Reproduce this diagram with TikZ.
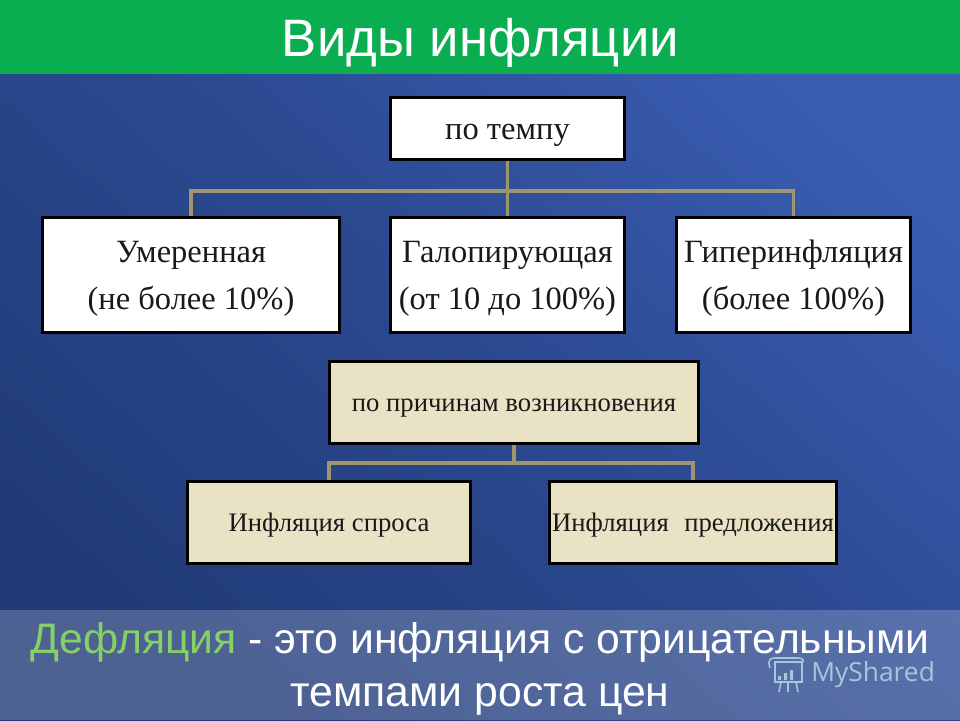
\documentclass[tikz,border=0pt]{standalone}
\usepackage{fontspec}
\setmainfont{Liberation Serif}
\setsansfont{Liberation Sans}
\newfontfamily\markfont{Open Sans}
\usetikzlibrary{positioning}
\usetikzlibrary{calc}
\definecolor{bgdark}{HTML}{213B78}
\definecolor{bglight}{HTML}{3A5DB2}
\definecolor{bargreen}{HTML}{0AAE50}
\definecolor{boxcream}{HTML}{EAE2C4}
\definecolor{linktan}{HTML}{A0966E}
\definecolor{defgreen}{HTML}{86D068}
\definecolor{markblue}{HTML}{A3C8DC}
\newcommand{\boxstrut}{\rule[-0.12em]{0pt}{1em}}
\tikzstyle{whitebox}=[rectangle,draw=black,fill=white,line width=1.7pt,inner sep=0pt,align=center,font=\fontsize{18.5}{26.8}\selectfont,text=black!90]
\tikzstyle{creambox}=[rectangle,draw=black,fill=boxcream,line width=1.7pt,inner sep=0pt,align=center,font=\fontsize{15.2}{18}\selectfont,text=black!90]
\tikzstyle{link}=[draw=linktan,line width=1.8pt]
\tikzstyle{heading}=[inner sep=0pt,align=center,text=white,font=\sffamily\fontsize{30}{34}\selectfont]
\tikzstyle{footer}=[inner sep=0pt,align=center,text=white,font=\sffamily\fontsize{24.3}{30}\selectfont]
\tikzstyle{markline}=[draw=markblue,line width=0.9pt]

\begin{document}
\begin{tikzpicture}[x=0.02cm,y=-0.02cm]

  \useasboundingbox (0,0) rectangle (960,720);

  % background
  \shade[bottom color=bgdark,top color=bglight,middle color=bgdark!60!bglight,shading angle=-42] (0,0) rectangle (960,720);
  \fill[bargreen] (0,0) rectangle (960,74);
  \fill[white,opacity=0.2] (0,610) rectangle (960,720);

  \node[heading] (title) at (480.5,43) {Виды инфляции};

  \foreach \pos/\name/\boxw/\boxh/\txt in {
      {(507.5,128.5)/tempo/234/62/по темпу\boxstrut},
      {(191,275)/moderate/297/115/Умеренная\boxstrut\\(не более 10\%)\boxstrut},
      {(507.5,275)/galloping/234/115/Галопирующая\boxstrut\\(от 10 до 100\%)\boxstrut},
      {(793.5,275)/hyper/234/115/Гиперинфляция\boxstrut\\(более 100\%)\boxstrut}}
      \node[whitebox,minimum width=\boxw*0.02cm,minimum height=\boxh*0.02cm] (\name) at \pos {\txt};

  \foreach \pos/\name/\boxw/\boxh/\txt in {
      {(514,402.5)/causes/369/82/по причинам возникновения\boxstrut},
      {(329,522.5)/demand/283/82/Инфляция спроса\boxstrut},
      {(693,522.5)/supply/287/82/Инфляция \hspace{5pt}предложения\boxstrut}}
      \node[creambox,minimum width=\boxw*0.02cm,minimum height=\boxh*0.02cm] (\name) at \pos {\txt};

  \coordinate (tempofork) at (507.5,191);
  \coordinate (causesfork) at (514,463);

  \draw[link] (tempo.south) -- (tempofork);
  \foreach \dest in {moderate, galloping, hyper}
      \draw[link] (tempofork) -| (\dest.north);

  \draw[link] (causes.south) -- (causesfork);
  \foreach \dest in {demand, supply}
      \draw[link] (causesfork) -| (\dest.north);

  \node[footer] (deflation) at (480,669) {{\color{defgreen}Дефляция} - это инфляция с отрицательными\\темпами роста цен};

  % watermark
  \node[inner sep=0pt,anchor=west,text=markblue,font=\markfont\fontsize{15}{18}\selectfont] (myshared) at (811,675) {MyShared};
  \draw[markline] (775,662) rectangle (802,682);
  \draw[markline] (770,668) .. controls (767,659) and (771,658) .. (775,658) -- (798,658) .. controls (804,658) and (804,662) .. (802,662);
  \fill[markblue] (778,676) rectangle (781,680) (784,673) rectangle (787,680) (790,670) rectangle (793,680);
  \draw[markline] (781,682) -- (779,692) (788,682) -- (788,692) (796,682) -- (798,692);

\end{tikzpicture}
\end{document}
